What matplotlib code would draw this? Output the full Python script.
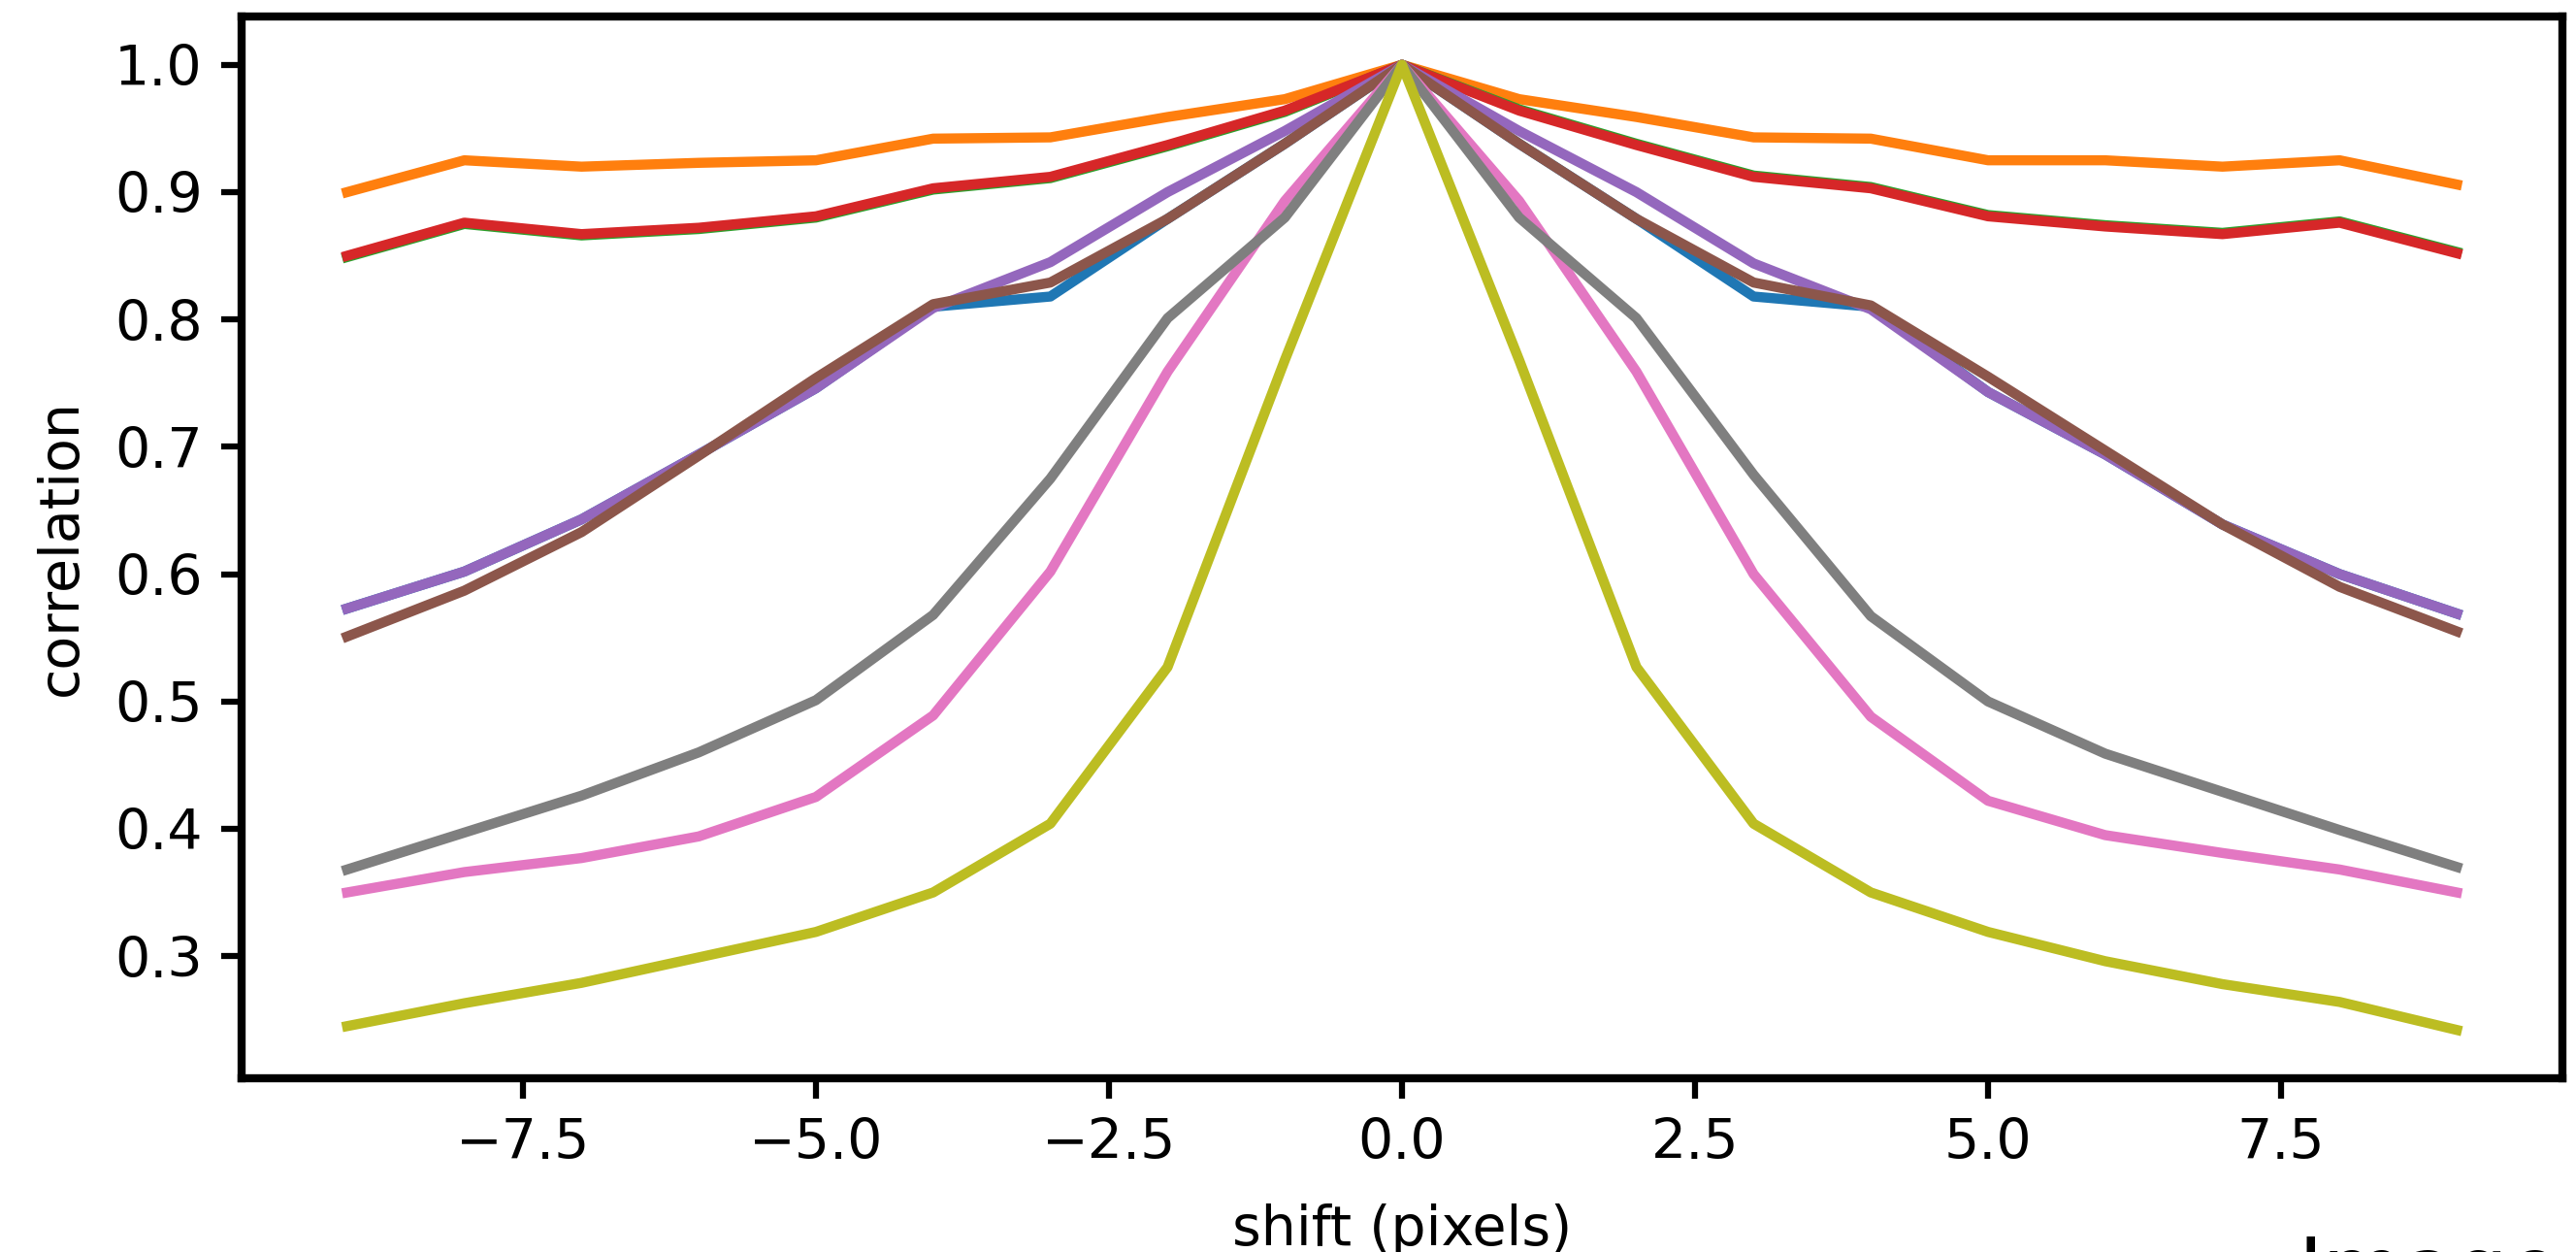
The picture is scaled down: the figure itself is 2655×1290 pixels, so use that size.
import matplotlib
matplotlib.use("Agg")
import matplotlib.pyplot as plt

# shift positions (pixels)
shift = [-9, -8, -7, -6, -5, -4, -3, -2, -1, 0, 1, 2, 3, 4, 5, 6, 7, 8, 9]

# correlation curves, one per series (tab10 colour order)
corr_blue = [0.573, 0.602, 0.643, 0.694, 0.746, 0.810, 0.818, 0.879, 0.938, 1.0,
             0.938, 0.879, 0.818, 0.810, 0.743, 0.694, 0.639, 0.600, 0.569]
corr_orange = [0.900, 0.925, 0.920, 0.923, 0.925, 0.942, 0.943, 0.959, 0.973, 1.0,
               0.973, 0.959, 0.943, 0.942, 0.925, 0.925, 0.920, 0.925, 0.906]
corr_green = [0.849, 0.875, 0.866, 0.871, 0.880, 0.902, 0.911, 0.936, 0.963, 1.0,
              0.965, 0.938, 0.913, 0.904, 0.882, 0.874, 0.868, 0.877, 0.853]
corr_red = [0.850, 0.876, 0.867, 0.872, 0.881, 0.903, 0.912, 0.937, 0.964, 1.0,
            0.964, 0.937, 0.912, 0.903, 0.881, 0.873, 0.867, 0.876, 0.852]
corr_purple = [0.573, 0.602, 0.643, 0.694, 0.746, 0.809, 0.845, 0.900, 0.948, 1.0,
               0.948, 0.900, 0.844, 0.808, 0.743, 0.694, 0.639, 0.600, 0.569]
corr_brown = [0.551, 0.587, 0.633, 0.693, 0.754, 0.812, 0.829, 0.879, 0.938, 1.0,
              0.938, 0.879, 0.829, 0.811, 0.755, 0.697, 0.639, 0.590, 0.555]
corr_pink = [0.350, 0.366, 0.377, 0.394, 0.425, 0.489, 0.602, 0.759, 0.893, 1.0,
             0.893, 0.759, 0.600, 0.488, 0.422, 0.395, 0.381, 0.368, 0.350]
corr_gray = [0.368, 0.397, 0.426, 0.460, 0.501, 0.568, 0.675, 0.801, 0.880, 1.0,
             0.880, 0.801, 0.678, 0.567, 0.500, 0.459, 0.429, 0.399, 0.370]
corr_olive = [0.245, 0.263, 0.279, 0.299, 0.319, 0.350, 0.404, 0.527, 0.768, 1.0,
              0.768, 0.527, 0.404, 0.350, 0.319, 0.296, 0.278, 0.264, 0.242]

series = [corr_blue, corr_orange, corr_green, corr_red, corr_purple,
          corr_brown, corr_pink, corr_gray, corr_olive]

fs = 41

fig = plt.figure(figsize=(26.55, 12.9), dpi=100)
ax = fig.add_axes([0.0938, 0.1388, 0.9009, 0.848])

for vals in series:
    ax.plot(shift, vals, linewidth=7.5)

for s in ax.spines.values():
    s.set_linewidth(6)

ax.tick_params(axis='both', labelsize=fs, width=4.5, length=15, pad=14)
ax.set_xlabel("shift (pixels)", fontsize=fs)
ax.set_ylabel("correlation", fontsize=fs)
ax.xaxis.set_label_coords(0.5, -0.118)
ax.yaxis.set_label_coords(-0.066, 0.5)

# clipped caption peeking in at the lower right
fig.text(0.892, -0.036, "Image", fontsize=62, va='baseline', ha='left')

fig.savefig("out.png", dpi=100)
